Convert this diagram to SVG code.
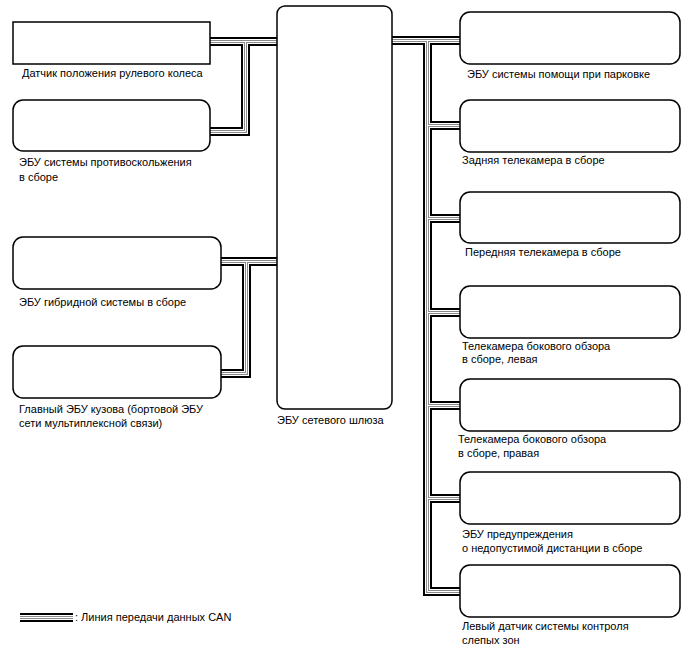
<svg xmlns="http://www.w3.org/2000/svg" width="688" height="658" viewBox="0 0 688 658">
<style>
.box{fill:#fff;stroke:#000;stroke-width:1.5}
.t{font-family:"Liberation Sans",Arial,sans-serif;font-size:11px;fill:#000}
.c1{fill:none;stroke:#000;stroke-width:9;stroke-linejoin:miter}
.c2{fill:none;stroke:#fff;stroke-width:5;stroke-linejoin:miter}
.c3{fill:none;stroke:#8a8a8a;stroke-width:3;stroke-linejoin:miter}
.c4{fill:none;stroke:#fff;stroke-width:1;stroke-linejoin:miter}
</style>
<defs>
<path id="bus" d="M210 41.5H277M245.5 41.5V131.5H210M220 261.5H277M246.5 261.5V373.5H220M392 40.5H460M427.5 40.5V591.5H460M427.5 125.5H460M427.5 218.5H460M427.5 312.5H460M427.5 405.5H460M427.5 498.5H460"/>
<path id="leg" d="M20 617.5H73"/>
</defs>
<g id="connectors">
<use href="#bus" class="c1"/><use href="#bus" class="c2"/><use href="#bus" class="c3"/><use href="#bus" class="c4"/>
</g>
<g id="n-steer"><rect class="box" x="13" y="22" width="197" height="42"/><text class="t" x="22" y="77">Датчик положения рулевого колеса</text></g>
<g id="n-abs"><rect class="box" x="13" y="100" width="197" height="51" rx="10"/><text class="t" x="19" y="166">ЭБУ системы противоскольжения</text><text class="t" x="19" y="181">в сборе</text></g>
<g id="n-hybrid"><rect class="box" x="13" y="237" width="208" height="52" rx="10"/><text class="t" x="19" y="306">ЭБУ гибридной системы в сборе</text></g>
<g id="n-body"><rect class="box" x="13" y="346" width="208" height="52" rx="10"/><text class="t" x="19" y="413">Главный ЭБУ кузова (бортовой ЭБУ</text><text class="t" x="19" y="427">сети мультиплексной связи)</text></g>
<g id="n-gw"><rect class="box" x="277" y="6" width="115" height="403" rx="8"/><text class="t" x="277" y="424">ЭБУ сетевого шлюза</text></g>
<g id="n-park"><rect class="box" x="460" y="12" width="220" height="52" rx="10"/><text class="t" x="467" y="78">ЭБУ системы помощи при парковке</text></g>
<g id="n-rear"><rect class="box" x="460" y="100" width="220" height="52" rx="10"/><text class="t" x="462" y="164">Задняя телекамера в сборе</text></g>
<g id="n-front"><rect class="box" x="460" y="192" width="220" height="51" rx="10"/><text class="t" x="465" y="256">Передняя телекамера в сборе</text></g>
<g id="n-sideL"><rect class="box" x="460" y="286" width="220" height="52" rx="10"/><text class="t" x="462" y="350">Телекамера бокового обзора</text><text class="t" x="462" y="363">в сборе, левая</text></g>
<g id="n-sideR"><rect class="box" x="460" y="379" width="220" height="52" rx="10"/><text class="t" x="458" y="443">Телекамера бокового обзора</text><text class="t" x="458" y="457">в сборе, правая</text></g>
<g id="n-dist"><rect class="box" x="460" y="472" width="220" height="52" rx="10"/><text class="t" x="462" y="538">ЭБУ предупреждения</text><text class="t" x="462" y="552">о недопустимой дистанции в сборе</text></g>
<g id="n-blind"><rect class="box" x="460" y="565" width="220" height="52" rx="10"/><text class="t" x="462" y="630">Левый датчик системы контроля</text><text class="t" x="462" y="644">слепых зон</text></g>
<g id="legend">
<use href="#leg" class="c1"/><use href="#leg" class="c2"/><use href="#leg" class="c3"/><use href="#leg" class="c4"/>
<text class="t" x="75" y="621">: Линия передачи данных CAN</text>
</g>
</svg>
